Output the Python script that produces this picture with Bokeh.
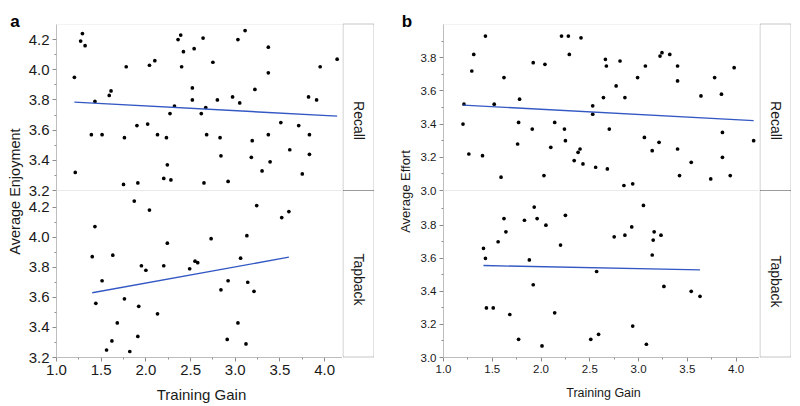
import math
import numpy as np
from bokeh.plotting import figure
from bokeh.models import (Range1d, LinearAxis, FixedTicker, Label, BoxAnnotation,
                          PrintfTickFormatter)
from bokeh.layouts import row
from bokeh.embed import file_html
from bokeh.resources import INLINE

# ---------------- data ----------------
a_recall_x = [1.20, 1.21, 1.27, 1.29, 1.32, 1.39, 1.43, 1.51, 1.59, 1.61, 1.76, 1.78, 1.75, 1.90, 1.91,
              2.02, 2.04, 2.10, 2.13, 2.20, 2.23, 2.24, 2.27, 2.28, 2.32, 2.36, 2.39, 2.40, 2.42, 2.52,
              2.52, 2.54, 2.62, 2.64, 2.65, 2.67, 2.68, 2.75, 2.80, 2.83, 2.84, 2.92, 2.97, 3.03, 3.05,
              3.11, 3.19, 3.18, 3.22, 3.30, 3.37, 3.37, 3.37, 3.39, 3.51, 3.61, 3.71, 3.75, 3.82, 3.83,
              3.83, 3.91, 3.95, 4.14]
a_recall_y = [3.95, 3.32, 4.19, 4.24, 4.16, 3.57, 3.79, 3.57, 3.83, 3.86, 3.55, 4.02, 3.24, 3.63, 3.25,
              3.64, 4.03, 4.06, 3.57, 3.28, 3.55, 3.37, 3.71, 3.27, 3.76, 4.20, 4.23, 4.02, 4.12, 3.88,
              3.80, 4.14, 3.71, 4.21, 3.25, 3.75, 3.57, 4.05, 3.80, 3.55, 3.43, 3.26, 3.82, 4.20, 3.78,
              4.26, 3.53, 3.42, 3.87, 3.33, 4.15, 3.98, 3.57, 3.39, 3.65, 3.47, 3.63, 3.31, 3.82, 3.57,
              3.44, 3.80, 4.02, 4.07]
a_tap_x = [1.40, 1.43, 1.44, 1.51, 1.56, 1.62, 1.63, 1.68, 1.76, 1.82, 1.87, 1.91, 1.92, 1.95, 2.00,
           2.04, 2.13, 2.20, 2.24, 2.49, 2.55, 2.58, 2.73, 2.84, 2.91, 2.92, 3.03, 3.06, 3.12, 3.13,
           3.14, 3.21, 3.24, 3.52, 3.60]
a_tap_y = [3.87, 4.07, 3.56, 3.71, 3.25, 3.31, 3.88, 3.43, 3.59, 3.24, 4.24, 3.34, 3.54, 3.81, 3.78,
           4.18, 3.49, 3.81, 3.96, 3.79, 3.84, 3.83, 3.99, 3.65, 3.32, 3.71, 3.43, 3.86, 3.29, 4.01,
           3.70, 3.64, 4.21, 4.13, 4.17]

b_recall_x = [1.20, 1.21, 1.26, 1.29, 1.31, 1.40, 1.43, 1.52, 1.59, 1.62, 1.76, 1.77, 1.78, 1.91, 1.92,
              2.03, 2.04, 2.10, 2.14, 2.21, 2.24, 2.25, 2.28, 2.29, 2.34, 2.38, 2.40, 2.41, 2.43, 2.53,
              2.53, 2.56, 2.64, 2.66, 2.67, 2.68, 2.70, 2.77, 2.81, 2.86, 2.85, 2.94, 2.99, 3.06, 3.07,
              3.14, 3.21, 3.22, 3.24, 3.32, 3.40, 3.40, 3.40, 3.42, 3.54, 3.64, 3.74, 3.78, 3.85, 3.86,
              3.86, 3.94, 3.98, 4.18]
b_recall_y = [3.40, 3.52, 3.22, 3.72, 3.82, 3.21, 3.93, 3.52, 3.08, 3.68, 3.28, 3.41, 3.55, 3.37, 3.77,
              3.09, 3.76, 3.26, 3.41, 3.93, 3.37, 3.30, 3.93, 3.82, 3.18, 3.23, 3.25, 3.92, 3.16, 3.51,
              3.46, 3.14, 3.56, 3.79, 3.75, 3.13, 3.37, 3.63, 3.78, 3.56, 3.03, 3.04, 3.68, 3.32, 3.75,
              3.24, 3.29, 3.81, 3.83, 3.82, 3.75, 3.66, 3.25, 3.09, 3.17, 3.57, 3.07, 3.68, 3.58, 3.35,
              3.20, 3.09, 3.74, 3.30]
b_tap_x = [1.41, 1.43, 1.44, 1.51, 1.56, 1.62, 1.64, 1.68, 1.77, 1.83, 1.88, 1.92, 1.93, 1.96, 2.01,
           2.05, 2.14, 2.20, 2.25, 2.51, 2.57, 2.59, 2.75, 2.86, 2.93, 2.94, 3.05, 3.08, 3.14, 3.15,
           3.16, 3.23, 3.26, 3.54, 3.63]
b_tap_y = [3.66, 3.60, 3.30, 3.30, 3.70, 3.84, 3.76, 3.26, 3.11, 3.83, 3.59, 3.44, 3.91, 3.84, 3.07,
           3.80, 3.27, 3.68, 3.86, 3.11, 3.52, 3.14, 3.73, 3.74, 3.79, 3.19, 3.92, 3.08, 3.62, 3.71,
           3.76, 3.74, 3.43, 3.40, 3.37]

x_ticks = [1.0, 1.5, 2.0, 2.5, 3.0, 3.5, 4.0]
x_minor = [1.25, 1.75, 2.25, 2.75, 3.25, 3.75]
a_y_ticks = [3.2, 3.4, 3.6, 3.8, 4.0, 4.2]
a_y_minor = [3.3, 3.5, 3.7, 3.9, 4.1]
b_y_ticks = [3.0, 3.2, 3.4, 3.6, 3.8]
b_y_minor = [3.1, 3.3, 3.5, 3.7, 3.9]
groups = ["Recall", "Tapback"]

# ---------------- layout constants (pixels) ----------------
FONT = "Liberation Sans"
TOP_PAD, TOP_H, BOT_H, BOTTOM_PAD = 24, 166, 167, 49
FRAME_H = TOP_H + BOT_H
H = TOP_PAD + FRAME_H + BOTTOM_PAD          # 406
STRIP_W = 32
DOT = "#000000"
FIT = "#3358c4"
FRAME_LINE = "#d6d6d6"
STRIP_LINE = "#404040"


def style_axis(ax, fs):
    ax.formatter = PrintfTickFormatter(format="%.1f")
    ax.axis_line_color = "#b4b4b4"
    ax.major_tick_line_color = "#8c8c8c"
    ax.minor_tick_line_color = "#8c8c8c"
    ax.major_tick_out = 4
    ax.major_tick_in = 0
    ax.minor_tick_out = 2
    ax.minor_tick_in = 0
    ax.major_label_text_font = FONT
    ax.major_label_text_font_size = fs
    ax.major_label_text_color = "#1a1a1a"
    ax.major_label_standoff = 3


def add_fit(p, xs, ys, **kw):
    k, b = np.polyfit(xs, ys, 1)
    lx = [min(xs), max(xs)]
    p.line(lx, [k * v + b for v in lx], line_color=FIT, line_width=1.4, **kw)


def bare_figure(width, x_range, y_range):
    p = figure(width=width, height=H, x_range=x_range, y_range=y_range,
               x_axis_type=None, y_axis_type=None,
               min_border_left=0, min_border_right=0, min_border_top=0, min_border_bottom=0,
               output_backend="svg", toolbar_location=None)
    p.outline_line_color = None
    p.background_fill_color = "white"
    p.border_fill_color = "white"
    return p


def panel(letter, ylabel, rx, ry, tx, ty, xr, top_r, bot_r, yticks, yminor,
          left_pad, frame_w, tick_fs, lab_fs, ylab_x, letter_x, xlab_x, xlab_y, xlab_fs):
    # ranges cover the whole canvas so that nothing drawn in the margins is clipped
    xppu = frame_w / (xr[1] - xr[0])
    x_range = Range1d(xr[0] - left_pad / xppu, xr[1])
    tppu = TOP_H / (top_r[1] - top_r[0])
    top_range = Range1d(top_r[0] - (BOT_H + BOTTOM_PAD) / tppu, top_r[1] + TOP_PAD / tppu)
    bppu = BOT_H / (bot_r[1] - bot_r[0])
    bot_range = Range1d(bot_r[0] - BOTTOM_PAD / bppu, bot_r[1] + (TOP_PAD + TOP_H) / bppu)

    p = bare_figure(left_pad + frame_w, x_range, bot_range)
    p.extra_y_ranges = {"top": top_range}

    # sub-plot borders
    p.add_layout(BoxAnnotation(left=xr[0], right=xr[1], bottom=top_r[0], top=top_r[1],
                               y_range_name="top", fill_alpha=0, line_color=FRAME_LINE,
                               line_width=1))
    p.add_layout(BoxAnnotation(left=xr[0], right=xr[1], bottom=bot_r[0], top=bot_r[1],
                               fill_alpha=0, line_color=FRAME_LINE, line_width=1))

    xa = LinearAxis(ticker=FixedTicker(ticks=x_ticks, minor_ticks=x_minor), bounds=xr,
                    fixed_location=bot_r[0])
    style_axis(xa, tick_fs)
    p.add_layout(xa, "below")
    ya1 = LinearAxis(y_range_name="top", ticker=FixedTicker(ticks=yticks, minor_ticks=yminor),
                     bounds=top_r, fixed_location=xr[0])
    style_axis(ya1, tick_fs)
    p.add_layout(ya1, "left")
    ya2 = LinearAxis(ticker=FixedTicker(ticks=yticks, minor_ticks=yminor),
                     bounds=bot_r, fixed_location=xr[0])
    style_axis(ya2, tick_fs)
    p.add_layout(ya2, "left")

    p.scatter(rx, ry, size=3.7, fill_color=DOT, line_color=None, y_range_name="top")
    p.scatter(tx, ty, size=3.7, fill_color=DOT, line_color=None)
    add_fit(p, rx, ry, y_range_name="top")
    add_fit(p, tx, ty)

    p.add_layout(Label(x=ylab_x, y=H - 191, x_units="screen", y_units="screen",
                       text=ylabel, angle=math.pi / 2, text_align="center",
                       text_baseline="middle", text_font=FONT, text_font_size=lab_fs,
                       text_color="#1a1a1a"))
    p.add_layout(Label(x=letter_x, y=H - 21, x_units="screen", y_units="screen",
                       text=letter, text_align="center", text_baseline="alphabetic",
                       text_font=FONT, text_font_size="17px", text_font_style="bold",
                       text_color="#000000"))
    p.add_layout(Label(x=xlab_x, y=xlab_y, x_units="screen", y_units="screen",
                       text="Training Gain", text_align="center", text_baseline="alphabetic",
                       text_font=FONT, text_font_size=xlab_fs, text_color="#1a1a1a"))
    return p


def strip(fs, recall_y, tap_y):
    # pixel-unit ranges: this figure only carries the facet header boxes
    s = bare_figure(STRIP_W, Range1d(0, STRIP_W), Range1d(-BOTTOM_PAD, FRAME_H + TOP_PAD))
    s.add_layout(BoxAnnotation(left=0.5, right=STRIP_W - 0.5, bottom=BOT_H, top=FRAME_H + 0.5,
                               fill_alpha=0, line_color=STRIP_LINE, line_width=1))
    s.add_layout(BoxAnnotation(left=0.5, right=STRIP_W - 0.5, bottom=0.5, top=BOT_H,
                               fill_alpha=0, line_color=STRIP_LINE, line_width=1))
    s.add_layout(Label(x=STRIP_W / 2, y=H - recall_y, x_units="screen", y_units="screen",
                       text=groups[0], angle=-math.pi / 2, text_align="center",
                       text_baseline="middle", text_font=FONT, text_font_size=fs,
                       text_color="#1a1a1a"))
    s.add_layout(Label(x=STRIP_W / 2, y=H - tap_y, x_units="screen", y_units="screen",
                       text=groups[1], angle=-math.pi / 2, text_align="center",
                       text_baseline="middle", text_font=FONT, text_font_size=fs,
                       text_color="#1a1a1a"))
    return s


pa = panel("a", "Average Enjoyment", a_recall_x, a_recall_y, a_tap_x, a_tap_y,
           (1.0, 4.2), (3.2, 4.3), (3.2, 4.31), a_y_ticks, a_y_minor,
           56, 286, "15px", "14.5px", 14, 14.5, 201, 12, "15px")
pb = panel("b", "Average Effort", b_recall_x, b_recall_y, b_tap_x, b_tap_y,
           (1.0, 4.24), (3.0, 4.0), (3.0, 4.01), b_y_ticks, b_y_minor,
           69, 316, "11.5px", "13px", 31, 32.5, 229, 14, "12.5px")

layout = row(pa, strip("14px", 120, 279), pb, strip("14px", 120, 281))

with open("out.html", "w") as f:
    f.write(file_html(layout, INLINE))
